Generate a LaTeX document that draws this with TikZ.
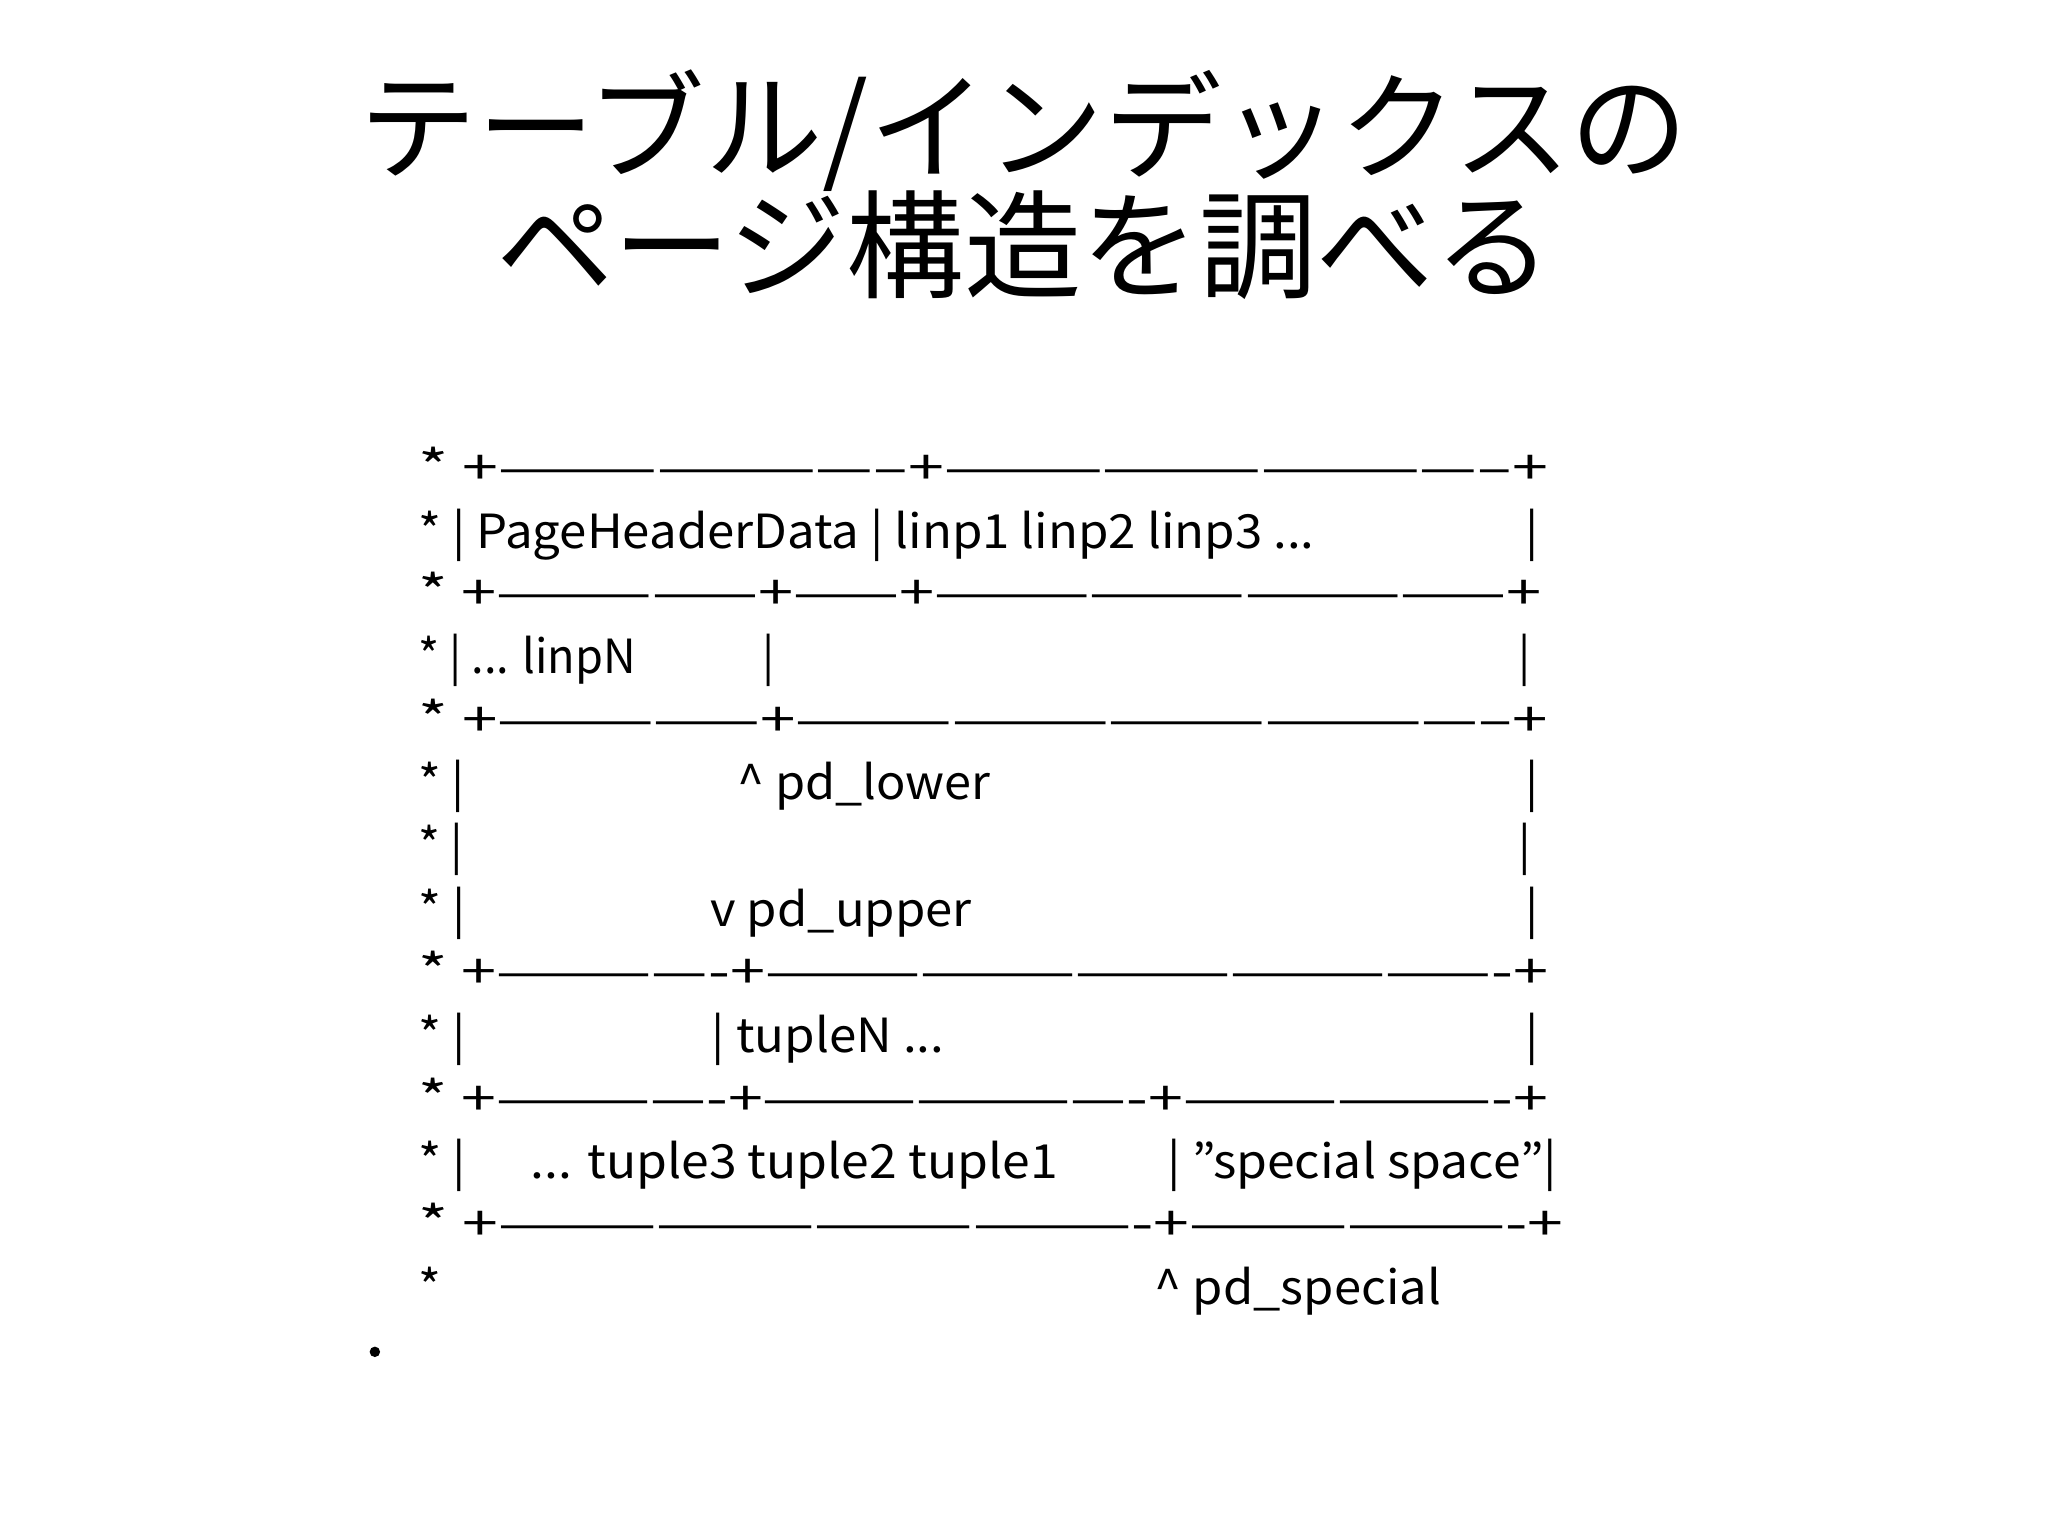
\documentclass[tikz,border=0pt]{standalone}
\usepackage{fontspec}
\setmainfont{Noto Sans CJK JP}
\begin{document}
\begin{tikzpicture}[x=1pt,y=1pt,
  ln/.style={anchor=base west,inner sep=0pt,font=\fontsize{36}{40}\selectfont},
  tt/.style={anchor=center,inner sep=0pt,font=\fontsize{90}{100}\selectfont}]
\useasboundingbox[fill=white] (0,0) rectangle (1568,1175);
\node[tt] (t1) at (784,1075) {テーブル/インデックスの};
\node[tt] (t2) at (784,987) {ページ構造を調べる};
\newcommand{\Ln}[3]{\node[ln] at (320,{1175-#1}) {\resizebox{#2pt}{\height}{\strut #3}};}
\Ln{371}{865}{* +-----------------------+--------------------------------+}
\Ln{420}{858}{* | PageHeaderData | linp1 linp2 linp3 ...\hspace{4.3em}|}
\Ln{467}{860}{* +---------------+------+---------------------------------+}
\Ln{516}{852}{* | ... linpN\hspace{2.8em}|\hspace{16.5em}|}
\Ln{564}{865}{* +---------------+-----------------------------------------+}
\Ln{612}{858}{* |\hspace{5.6em}\^{} pd\_lower\hspace{11em}|}
\Ln{660}{852}{* |\hspace{22.5em}|}
\Ln{709}{858}{* |\hspace{5em}v pd\_upper\hspace{11.3em}|}
\Ln{757}{865}{* +-------------+-------------------------------------------+}
\Ln{806}{858}{* |\hspace{5em}| tupleN ...\hspace{11.8em}|}
\Ln{854}{865}{* +-------------+----------------------+-------------------+}
\Ln{902}{872}{* |\hspace{1.3em}... tuple3 tuple2 tuple1\hspace{2.2em}| "special space"|}
\Ln{950}{877}{* +-------------------------------------+-------------------+}
\Ln{999}{783}{*\hspace{14.6em}\^{} pd\_special}
\fill (287,{1175-1035}) circle (4);
\end{tikzpicture}
\end{document}
